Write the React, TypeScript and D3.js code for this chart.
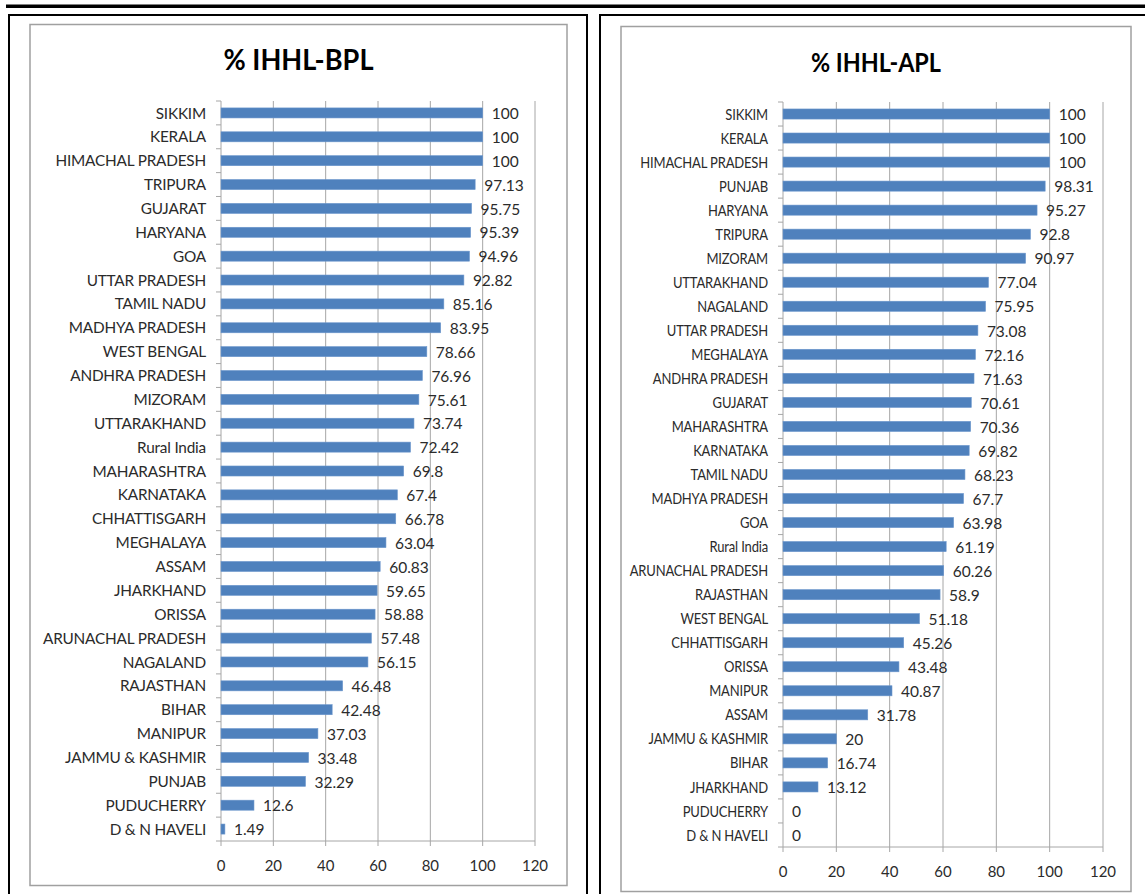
import React from "react";
import * as d3 from "d3";

// % IHHL coverage among BPL households, state-wise (top to bottom)
const bplStates = [
  "SIKKIM", "KERALA", "HIMACHAL PRADESH", "TRIPURA", "GUJARAT", "HARYANA", "GOA",
  "UTTAR PRADESH", "TAMIL NADU", "MADHYA PRADESH", "WEST BENGAL", "ANDHRA PRADESH",
  "MIZORAM", "UTTARAKHAND", "Rural India", "MAHARASHTRA", "KARNATAKA", "CHHATTISGARH",
  "MEGHALAYA", "ASSAM", "JHARKHAND", "ORISSA", "ARUNACHAL PRADESH", "NAGALAND",
  "RAJASTHAN", "BIHAR", "MANIPUR", "JAMMU & KASHMIR", "PUNJAB", "PUDUCHERRY", "D & N HAVELI",
];
const bplValues = [
  100, 100, 100, 97.13, 95.75, 95.39, 94.96,
  92.82, 85.16, 83.95, 78.66, 76.96,
  75.61, 73.74, 72.42, 69.8, 67.4, 66.78,
  63.04, 60.83, 59.65, 58.88, 57.48, 56.15,
  46.48, 42.48, 37.03, 33.48, 32.29, 12.6, 1.49,
];

// % IHHL coverage among APL households, state-wise (top to bottom)
const aplStates = [
  "SIKKIM", "KERALA", "HIMACHAL PRADESH", "PUNJAB", "HARYANA", "TRIPURA", "MIZORAM",
  "UTTARAKHAND", "NAGALAND", "UTTAR PRADESH", "MEGHALAYA", "ANDHRA PRADESH", "GUJARAT",
  "MAHARASHTRA", "KARNATAKA", "TAMIL NADU", "MADHYA PRADESH", "GOA", "Rural India",
  "ARUNACHAL PRADESH", "RAJASTHAN", "WEST BENGAL", "CHHATTISGARH", "ORISSA", "MANIPUR",
  "ASSAM", "JAMMU & KASHMIR", "BIHAR", "JHARKHAND", "PUDUCHERRY", "D & N HAVELI",
];
const aplValues = [
  100, 100, 100, 98.31, 95.27, 92.8, 90.97,
  77.04, 75.95, 73.08, 72.16, 71.63, 70.61,
  70.36, 69.82, 68.23, 67.7, 63.98, 61.19,
  60.26, 58.9, 51.18, 45.26, 43.48, 40.87,
  31.78, 20, 16.74, 13.12, 0, 0,
];

const xTicks = [0, 20, 40, 60, 80, 100, 120];

const FONT = "Lato, 'Open Sans', sans-serif";
const BAR = "#4F81BD";
const GRID = "#a6a6a6";
const TEXT = "#2b2b2b";

type PanelProps = {
  title: string;
  states: string[];
  values: number[];
  outer: { x: number; y: number; w: number; h: number };
  inner: { x: number; y: number; w: number; h: number };
  plot: { x0: number; x1: number; y0: number; y1: number };
  titleY: number;
  titleSize: number;
  titleSqueeze: number;
  nameSqueeze: number;
};

function Panel({ title, states, values, outer, inner, plot, titleY, titleSize, titleSqueeze, nameSqueeze }: PanelProps) {
  const x = d3.scaleLinear().domain([0, 120]).range([plot.x0, plot.x1]);
  const y = d3
    .scaleBand<string>()
    .domain(states.map((s, i) => `${i}`))
    .range([plot.y0, plot.y1])
    .paddingInner(0.58)
    .paddingOuter(0.29);
  const step = y.step();
  const boundaries = d3.range(states.length + 1).map((i) => plot.y0 + i * step);
  const cx = (inner.x + inner.x + inner.w) / 2;

  return (
    <g>
      <rect x={outer.x} y={outer.y} width={outer.w} height={outer.h} fill="none" stroke="#000" strokeWidth={2} />
      <rect x={inner.x} y={inner.y} width={inner.w} height={inner.h} fill="#fff" stroke="#a0a0a0" strokeWidth={1.5} />
      <text
        transform={`translate(${cx},${titleY}) scale(${titleSqueeze},1)`}
        textAnchor="middle"
        fontFamily={FONT}
        fontWeight={700}
        fontSize={titleSize}
        fill="#000"
      >
        {title}
      </text>
      {/* vertical gridlines */}
      {xTicks.slice(1).map((t) => (
        <line key={`g${t}`} x1={x(t)} x2={x(t)} y1={plot.y0} y2={plot.y1} stroke={GRID} strokeWidth={1} />
      ))}
      {/* category axis */}
      <line x1={plot.x0} x2={plot.x0} y1={plot.y0} y2={plot.y1} stroke={GRID} strokeWidth={1} />
      {boundaries.map((b, i) => (
        <line key={`yt${i}`} x1={plot.x0 - 5} x2={plot.x0} y1={b} y2={b} stroke={GRID} strokeWidth={1} />
      ))}
      {/* value axis */}
      <line x1={plot.x0} x2={plot.x1} y1={plot.y1} y2={plot.y1} stroke={GRID} strokeWidth={1} />
      {xTicks.map((t) => (
        <g key={`xt${t}`}>
          <line x1={x(t)} x2={x(t)} y1={plot.y1} y2={plot.y1 + 5} stroke={GRID} strokeWidth={1} />
          <text x={x(t)} y={plot.y1 + 30} textAnchor="middle" fontFamily={FONT} fontSize={15} fill={TEXT}>
            {t}
          </text>
        </g>
      ))}
      {/* bars, category names and value labels */}
      {states.map((s, i) => {
        const key = `${i}`;
        const yy = y(key) as number;
        const mid = yy + y.bandwidth() / 2;
        const v = values[i];
        return (
          <g key={key}>
            {v > 0 && (
              <rect x={x(0)} y={yy} width={x(v) - x(0)} height={y.bandwidth()} fill={BAR} stroke="#6b96cc" strokeWidth={0.6} />
            )}
            <text
              transform={`translate(${plot.x0 - 15},${mid}) scale(${nameSqueeze},1)`}
              dy="0.36em"
              textAnchor="end"
              fontFamily={FONT}
              fontSize={15.5}
              letterSpacing={-0.2}
              fill={TEXT}
            >
              {s}
            </text>
            <text x={x(v) + 9} y={mid} dy="0.4em" textAnchor="start" fontFamily={FONT} fontSize={15.5} fill={TEXT}>
              {v}
            </text>
          </g>
        );
      })}
    </g>
  );
}

export default function App() {
  return (
    <svg
      width={1145}
      height={894}
      viewBox="0 0 1145 894"
      style={{ position: "absolute", left: 0, top: 0, display: "block", background: "#fff" }}
    >
      <rect x={0} y={0} width={1145} height={894} fill="#fff" />
      <rect x={6} y={4.5} width={1139} height={3.5} fill="#000" />
      <Panel
        title="% IHHL-BPL"
        states={bplStates}
        values={bplValues}
        outer={{ x: 9, y: 15, w: 578, h: 890 }}
        inner={{ x: 30, y: 24.5, w: 537, h: 861 }}
        plot={{ x0: 221, x1: 535, y0: 101, y1: 841 }}
        titleY={70}
        titleSize={28}
        titleSqueeze={0.97}
        nameSqueeze={0.99}
      />
      <Panel
        title="% IHHL-APL"
        states={aplStates}
        values={aplValues}
        outer={{ x: 600, y: 15, w: 560, h: 890 }}
        inner={{ x: 621, y: 26.5, w: 510, h: 865 }}
        plot={{ x0: 783, x1: 1103, y0: 102, y1: 847 }}
        titleY={72}
        titleSize={26}
        titleSqueeze={0.9}
        nameSqueeze={0.84}
      />
    </svg>
  );
}
